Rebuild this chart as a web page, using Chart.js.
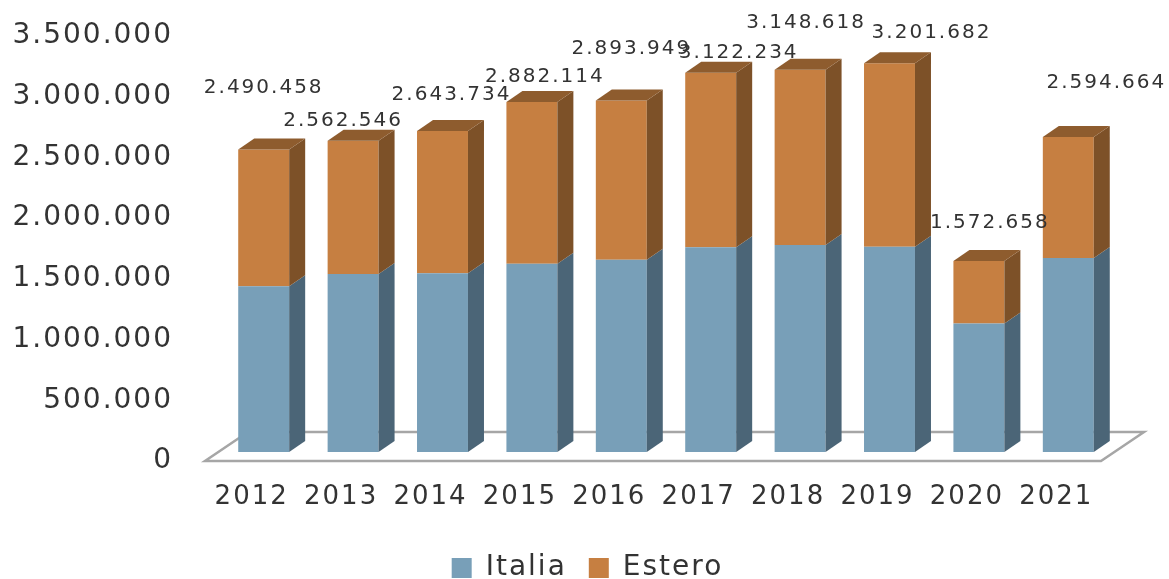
<!DOCTYPE html>
<html><head><meta charset="utf-8">
<script src="https://cdn.jsdelivr.net/npm/chart.js@4.4.1/dist/chart.umd.min.js"></script>
<style>html,body{margin:0;padding:0;background:#fff;}#wrap{width:1169px;height:579px;overflow:hidden;}</style>
</head><body><div id="wrap"><canvas id="c" width="1169" height="579"></canvas></div>
<script>
const years = ['2012','2013','2014','2015','2016','2017','2018','2019','2020','2021'];
const italia = [1366000, 1465000, 1473000, 1550000, 1583000, 1687000, 1704000, 1690000, 1059000, 1597000];
const estero = [1124458, 1097546, 1170734, 1332114, 1310949, 1435234, 1444618, 1511682, 513658, 997664];
const totals = [2490458, 2562546, 2643734, 2882114, 2893949, 3122234, 3148618, 3201682, 1572658, 2594664];
const yMax = 3500000;
const yStep = 500000;
// manual label placement relative to bar top (like Excel's moved labels)
const labelDx = [0, -10, 9, 13, 10, 28, 6, 42, 11, 38];
const labelDy = [62, 20, 36, 25, 52, 20, 47, 30, 38, 54];

function fmt(v){ return String(v).replace(/\B(?=(\d{3})+(?!\d))/g, '.'); }

const FONT = "'DejaVu Sans', sans-serif";
const TXT = '#333333';
const DX = 16, DY = 11;
const sideColors = ['#4b6577', '#7d5128'];
const topColors = ['#5d7d92', '#8e5c2e'];

const spacing = {
  id: 'spacing',
  beforeUpdate(chart){ try { chart.ctx.letterSpacing = '2px'; } catch(e){} },
  beforeDraw(chart){ try { chart.ctx.letterSpacing = '2px'; } catch(e){} }
};

const threeD = {
  id: 'threeD',
  beforeDatasetsDraw(chart){
    const {ctx, chartArea:a} = chart;
    ctx.save();
    const fy = a.bottom + 9, bl = a.left - 14, br = a.right - 12;
    ctx.beginPath();
    ctx.moveTo(bl, fy);
    ctx.lineTo(br, fy);
    ctx.lineTo(br + 43, fy - 29);
    ctx.lineTo(bl + 43, fy - 29);
    ctx.closePath();
    ctx.fillStyle = '#ffffff';
    ctx.fill();
    ctx.lineWidth = 2.5;
    ctx.strokeStyle = '#a6a6a6';
    ctx.stroke();
    ctx.restore();
  },
  afterDatasetsDraw(chart){
    const {ctx} = chart;
    ctx.save();
    const n = chart.data.datasets.length;
    chart.data.datasets.forEach((ds, di) => {
      const meta = chart.getDatasetMeta(di);
      meta.data.forEach((el) => {
        const r = el.x + el.width/2, l = el.x - el.width/2;
        const t = Math.min(el.y, el.base), b = Math.max(el.y, el.base);
        ctx.beginPath();
        ctx.moveTo(r, t); ctx.lineTo(r + DX, t - DY); ctx.lineTo(r + DX, b - DY); ctx.lineTo(r, b);
        ctx.closePath();
        ctx.fillStyle = sideColors[di];
        ctx.fill();
        if (di === n - 1) {
          ctx.beginPath();
          ctx.moveTo(l, t); ctx.lineTo(l + DX, t - DY); ctx.lineTo(r + DX, t - DY); ctx.lineTo(r, t);
          ctx.closePath();
          ctx.fillStyle = topColors[di];
          ctx.fill();
        }
      });
    });
    // total labels
    const top = chart.getDatasetMeta(n - 1);
    ctx.font = '20px ' + FONT;
    ctx.fillStyle = TXT;
    ctx.textAlign = 'center';
    ctx.textBaseline = 'middle';
    try { ctx.letterSpacing = '2px'; } catch(e){}
    top.data.forEach((el, i) => {
      ctx.fillText(fmt(totals[i]), el.x + labelDx[i], el.y - labelDy[i]);
    });
    ctx.restore();
  }
};

new Chart(document.getElementById('c'), {
  type: 'bar',
  data: {
    labels: years,
    datasets: [
      { label: 'Italia', data: italia, backgroundColor: '#789fb8', borderWidth: 0, stack: 's' },
      { label: 'Estero', data: estero, backgroundColor: '#c67f41', borderWidth: 0, stack: 's' }
    ]
  },
  options: {
    responsive: false,
    animation: false,
    devicePixelRatio: 1,
    layout: { padding: { top: 27, right: -6, left: 0, bottom: -13 } },
    datasets: { bar: { barPercentage: 0.57, categoryPercentage: 1.0 } },
    plugins: {
      legend: {
        position: 'bottom',
        labels: { boxWidth: 20, boxHeight: 20, padding: 22, color: TXT, font: { family: FONT, size: 28 } }
      },
      tooltip: { enabled: false }
    },
    scales: {
      x: {
        stacked: true,
        grid: { display: false, drawTicks: false },
        border: { display: false },
        ticks: { color: TXT, font: { family: FONT, size: 26 }, padding: 30, labelOffset: -12, maxRotation: 0, autoSkip: false },
        afterFit(s){ s.height = 80; }
      },
      y: {
        stacked: true,
        min: 0, max: yMax,
        grid: { display: false, drawTicks: false },
        border: { display: false },
        ticks: { stepSize: yStep, color: TXT, font: { family: FONT, size: 28 }, padding: 46, labelOffset: 9, callback: v => fmt(v) },
        afterFit(s){ s.width = 219; s.paddingTop = 10; s.paddingBottom = 10; }
      },
      yRight: {
        position: 'right',
        min: 0, max: yMax,
        grid: { display: false, drawTicks: false },
        border: { display: false },
        ticks: { display: false },
        afterFit(s){ s.width = 62; s.paddingTop = 0; s.paddingBottom = 0; }
      }
    }
  },
  plugins: [spacing, threeD]
});
</script>
</body></html>
